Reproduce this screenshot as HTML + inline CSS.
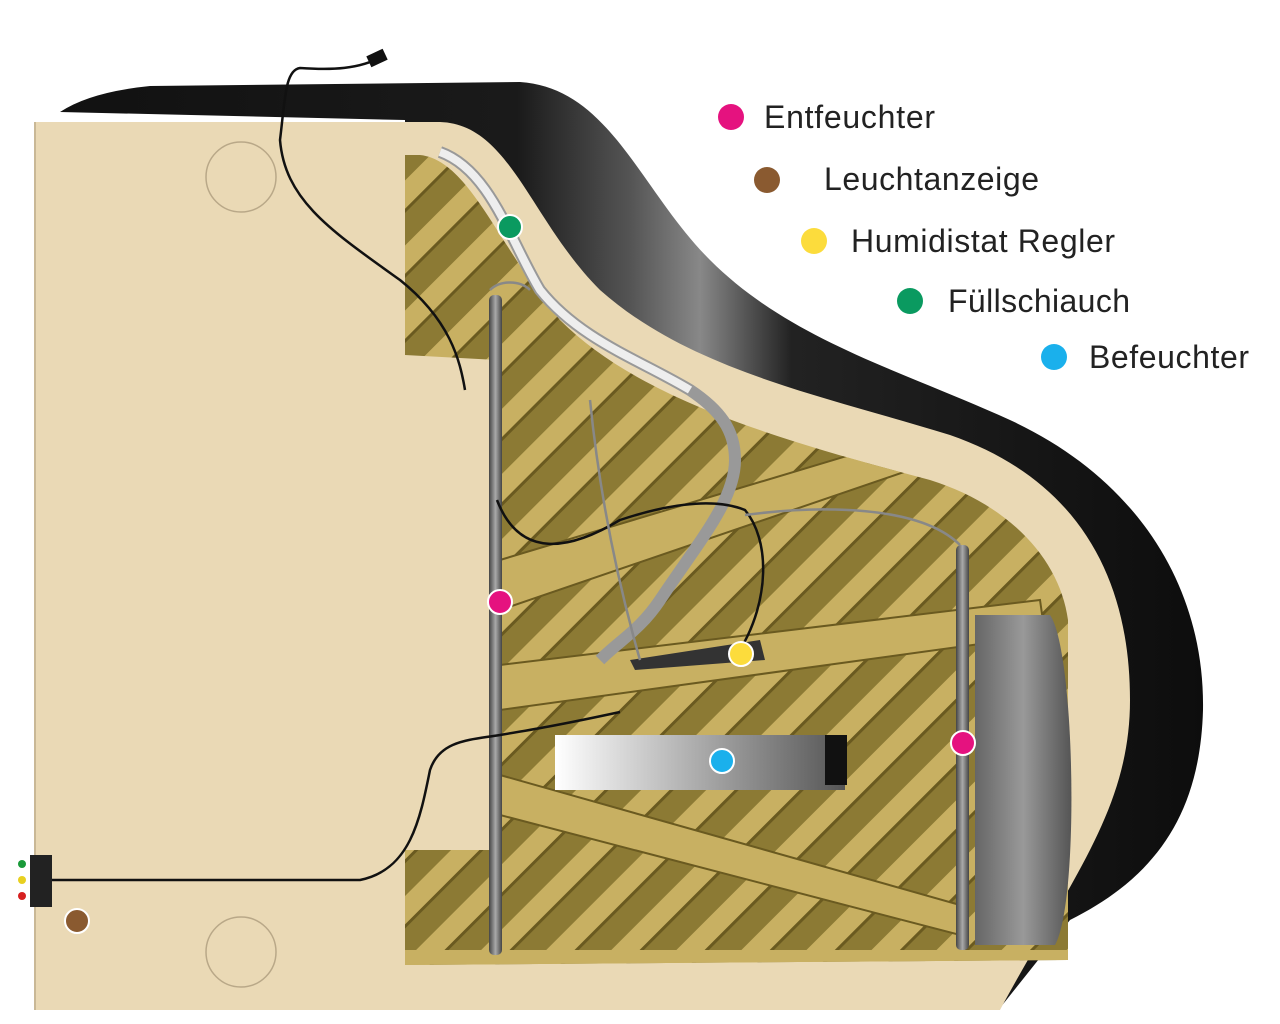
<!DOCTYPE html>
<html><head><meta charset="utf-8"><style>
html,body{margin:0;padding:0;background:#fff;width:1280px;height:1024px;overflow:hidden}
svg{display:block}
text{font-family:"Liberation Sans","DejaVu Sans",sans-serif;font-size:32px;fill:#222}
</style></head><body>
<svg width="1280" height="1024" viewBox="0 0 1280 1024">
<defs>
<linearGradient id="blk" x1="0" y1="0" x2="1" y2="0">
<stop offset="0" stop-color="#111"/><stop offset="0.4" stop-color="#1a1a1a"/><stop offset="0.5" stop-color="#555"/><stop offset="0.56" stop-color="#888"/><stop offset="0.64" stop-color="#222"/><stop offset="1" stop-color="#0d0d0d"/></linearGradient>
<linearGradient id="cyl2" x1="0" y1="0" x2="1" y2="0"><stop offset="0" stop-color="#fff"/><stop offset="1" stop-color="#555"/></linearGradient>
<linearGradient id="pan" x1="0" y1="0" x2="1" y2="0"><stop offset="0" stop-color="#666"/><stop offset="0.5" stop-color="#999"/><stop offset="1" stop-color="#555"/></linearGradient>
<linearGradient id="rod" x1="0" y1="0" x2="1" y2="0"><stop offset="0" stop-color="#444"/><stop offset="0.5" stop-color="#aaa"/><stop offset="1" stop-color="#444"/></linearGradient>
<clipPath id="inner"><path d="M405,155 L420,155 C470,160 500,250 560,320 C640,400 780,440 930,480 C1010,505 1060,560 1068,620 L1068,960 L405,965 Z"/></clipPath>
<pattern id="str" width="46" height="46" patternUnits="userSpaceOnUse" patternTransform="rotate(-45)">
<rect width="46" height="46" fill="#8c7a34"/><rect width="46" height="20" fill="#c8b062"/><rect y="20" width="46" height="3" fill="#6a5a20"/></pattern>
</defs>
<path d="M60,112 Q90,92 150,86 L520,82 C610,88 640,190 710,260 C790,340 900,370 1010,420 C1140,480 1205,590 1203,710 C1200,820 1150,880 1070,920 L1000,1008 L405,1010 L405,120 Z" fill="url(#blk)"/>
<path d="M405,122 L440,122 C510,124 530,220 600,290 C690,370 820,395 950,435 C1080,480 1130,580 1130,700 C1130,810 1070,880 1000,1010 L405,1010 Z" fill="#ead9b5"/>
<g clip-path="url(#inner)">
<rect x="400" y="150" width="680" height="820" fill="url(#str)"/>
<polygon points="500,560 900,440 910,470 500,610" fill="#c8b062" stroke="#6a5a20" stroke-width="2"/>
<polygon points="500,665 1040,600 1045,635 500,710" fill="#c8b062" stroke="#6a5a20" stroke-width="2"/>
<polygon points="500,775 960,905 960,935 500,815" fill="#c8b062" stroke="#6a5a20" stroke-width="2"/>
<rect x="405" y="950" width="670" height="15" fill="#c8b062"/>
</g>
<path d="M35,122 L405,122 L405,355 L497,360 L497,850 L405,850 L405,1010 L35,1010 Z" fill="#ead9b5"/>
<line x1="35" y1="122" x2="35" y2="1010" stroke="#c9b896" stroke-width="2"/>
<circle cx="241" cy="177" r="35" fill="none" stroke="#b9a888" stroke-width="1.5"/>
<circle cx="241" cy="952" r="35" fill="none" stroke="#b9a888" stroke-width="1.5"/>
<path d="M975,615 L1050,615 C1075,650 1080,900 1055,945 L975,945 Z" fill="url(#pan)"/>
<path d="M440,152 C490,170 510,240 540,290 C580,340 640,360 690,390 C720,410 735,430 735,460 C735,500 700,540 660,600 C640,630 620,640 600,660" fill="none" stroke="#999" stroke-width="12"/>
<path d="M440,152 C490,170 510,240 540,290 C580,340 640,360 690,390" fill="none" stroke="#eee" stroke-width="8"/>
<rect x="489" y="295" width="13" height="660" rx="5" fill="url(#rod)"/>
<rect x="956" y="545" width="13" height="405" rx="5" fill="url(#rod)"/>
<rect x="555" y="735" width="290" height="55" fill="url(#cyl2)"/>
<rect x="825" y="735" width="22" height="50" fill="#111"/>
<path d="M630,660 L760,640 L765,660 L635,670 Z" fill="#333"/>
<g fill="none" stroke="#111" stroke-width="2.5">
<path d="M385,55 C360,70 330,70 300,68 C285,70 285,100 280,140 C285,200 330,230 400,280 C450,320 460,360 465,390"/>
<path d="M497,500 C520,560 570,550 620,520 C680,500 720,500 745,510 C770,540 770,600 740,650"/>
<path d="M30,880 L360,880 C410,870 420,820 430,770 C440,740 470,740 500,735 C530,730 560,725 620,712"/>
</g>
<path d="M490,290 C500,280 520,280 530,290 M745,515 C820,505 920,505 960,545 M590,400 C600,500 620,590 640,660" fill="none" stroke="#888" stroke-width="2.5"/>
<rect x="368" y="52" width="18" height="12" fill="#111" transform="rotate(-25 377 58)"/>
<rect x="30" y="855" width="22" height="52" fill="#222"/>
<circle cx="22" cy="864" r="4" fill="#1a9a3a"/><circle cx="22" cy="880" r="4" fill="#e8d020"/><circle cx="22" cy="896" r="4" fill="#d62020"/>
<g stroke="#fff" stroke-width="2">
<circle cx="510" cy="227" r="12" fill="#0a9a60"/>
<circle cx="500" cy="602" r="12" fill="#e5127f"/>
<circle cx="963" cy="743" r="12" fill="#e5127f"/>
<circle cx="741" cy="654" r="12" fill="#fcdc3c"/>
<circle cx="722" cy="761" r="12" fill="#1ab0ec"/>
<circle cx="77" cy="921" r="12" fill="#8a5a30"/>
</g>
<circle cx="731" cy="117" r="13" fill="#e5127f"/><text x="764" y="128" textLength="171">Entfeuchter</text>
<circle cx="767" cy="180" r="13" fill="#8a5a30"/><text x="824" y="190" textLength="215">Leuchtanzeige</text>
<circle cx="814" cy="241" r="13" fill="#fcdc3c"/><text x="851" y="252" textLength="264">Humidistat Regler</text>
<circle cx="910" cy="301" r="13" fill="#0a9a60"/><text x="948" y="312" textLength="182">Füllschiauch</text>
<circle cx="1054" cy="357" r="13" fill="#1ab0ec"/><text x="1089" y="368" textLength="160">Befeuchter</text>
</svg>
</body></html>
